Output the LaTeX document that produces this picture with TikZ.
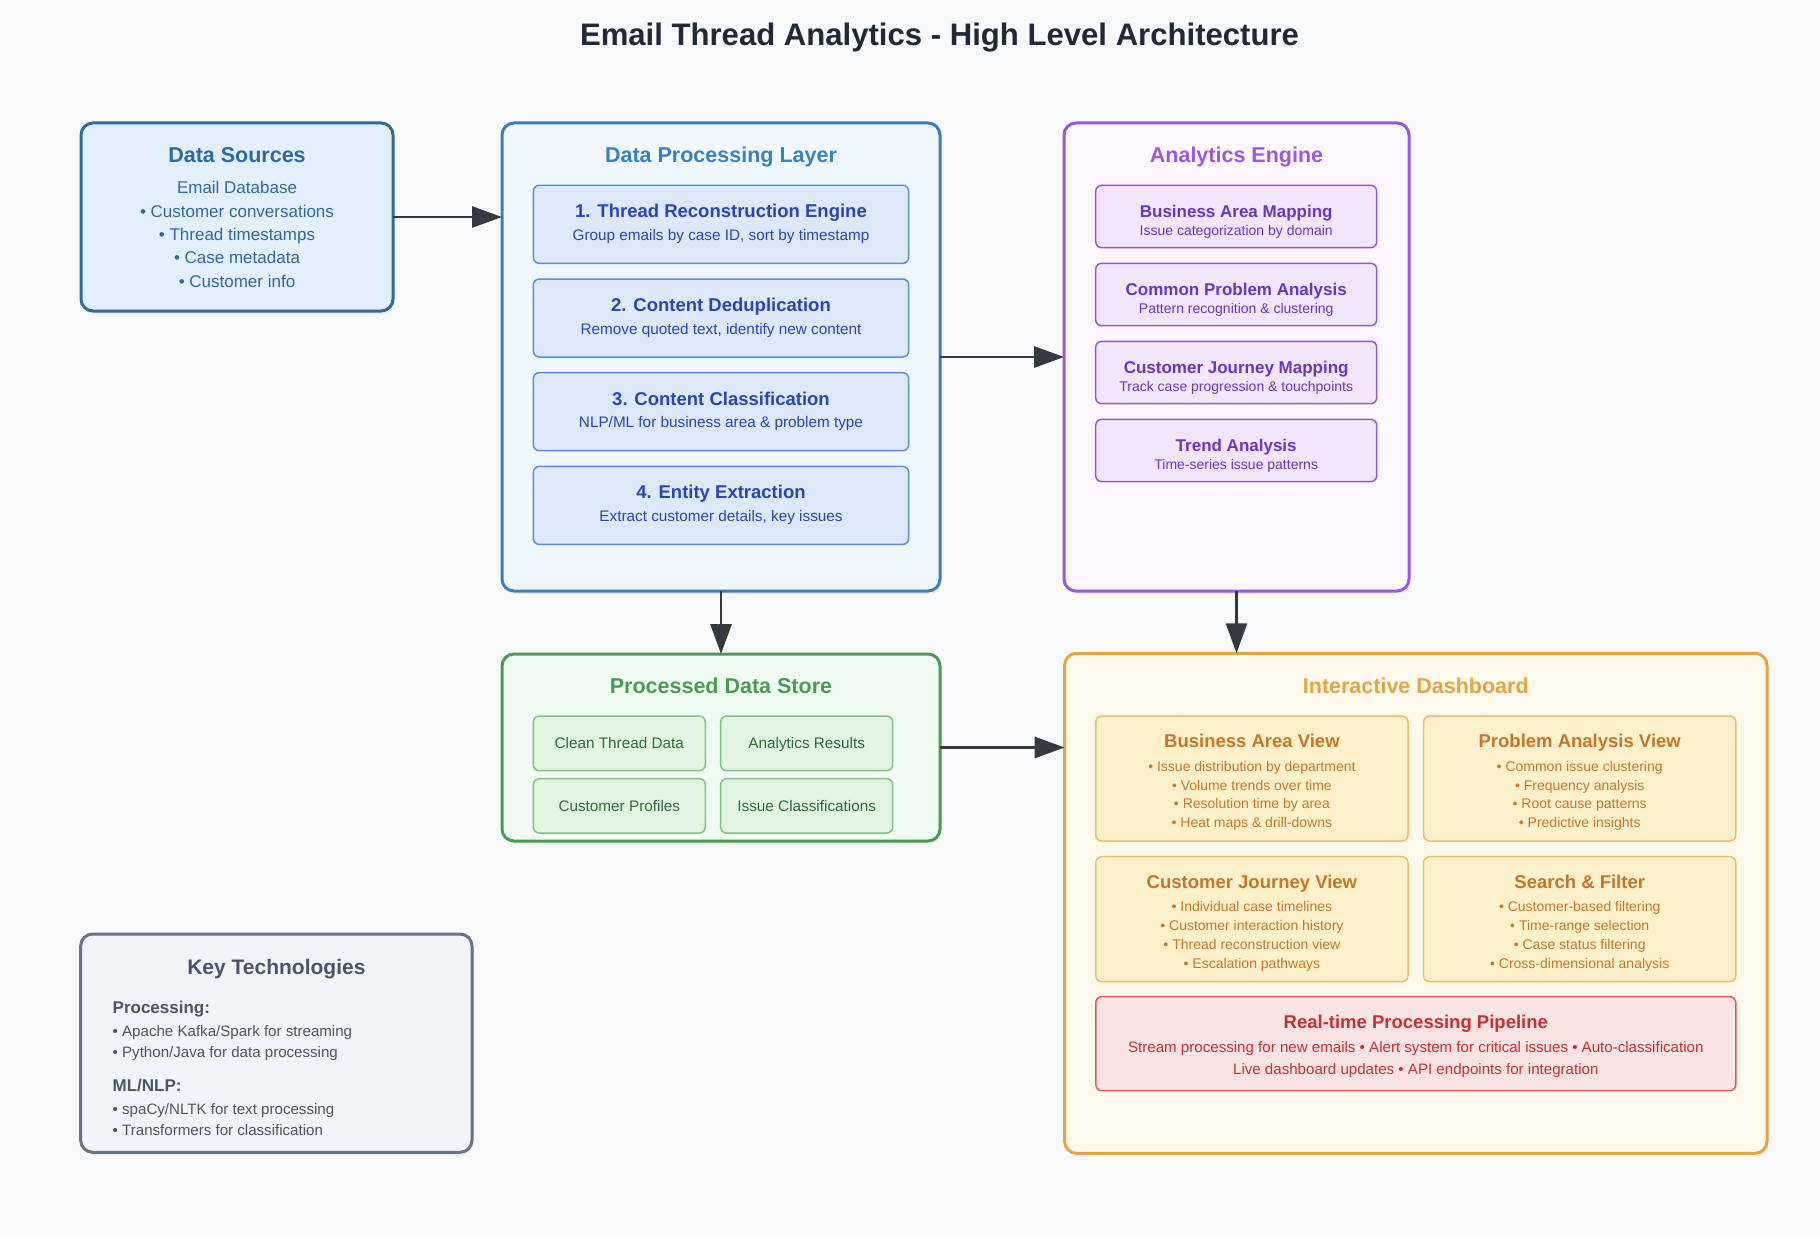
\documentclass[tikz,border=0pt]{standalone}
\usepackage{fontspec}
\setmainfont{Liberation Sans}
\usetikzlibrary{arrows.meta,shadows}
\definecolor{bgc}{HTML}{F7F9FB}
\definecolor{titlec}{HTML}{1F2937}
\definecolor{arrc}{HTML}{353A42}
\definecolor{dsS}{HTML}{2F6A9E}
\definecolor{dsF}{HTML}{E3F0FC}
\definecolor{dsT}{HTML}{2D6A9E}
\definecolor{dpS}{HTML}{3A7EBF}
\definecolor{dpF}{HTML}{F0F7FE}
\definecolor{dpT}{HTML}{3A80BF}
\definecolor{dpiF}{HTML}{DDE8FA}
\definecolor{dpiS}{HTML}{5A8DDF}
\definecolor{dpiT}{HTML}{2745B5}
\definecolor{aeS}{HTML}{9A58DE}
\definecolor{aeF}{HTML}{FCF6FD}
\definecolor{aeiF}{HTML}{F1E6FC}
\definecolor{aeiS}{HTML}{9457DA}
\definecolor{aeiT}{HTML}{6B33C6}
\definecolor{pdS}{HTML}{4A9B52}
\definecolor{pdF}{HTML}{F0FBF1}
\definecolor{pdiF}{HTML}{E0F6E1}
\definecolor{pdiS}{HTML}{7DC486}
\definecolor{pdiT}{HTML}{2E6B36}
\definecolor{dbS}{HTML}{E5A443}
\definecolor{dbF}{HTML}{FFF9EB}
\definecolor{dbiF}{HTML}{FDF0CB}
\definecolor{dbiS}{HTML}{EBBD66}
\definecolor{dbiT}{HTML}{C4772A}
\definecolor{ppF}{HTML}{FAE3E3}
\definecolor{ppS}{HTML}{DB5B5B}
\definecolor{ppT}{HTML}{C53030}
\definecolor{ktS}{HTML}{687386}
\definecolor{ktF}{HTML}{F1F4F8}
\definecolor{ktT}{HTML}{4A5568}
\newcommand\mkbox[6]{\node[#1, minimum width={(#5)-(#3)}, minimum height={(#6)-(#4)}] (#2) at ({((#3)+(#5))/2},{((#4)+(#6))/2}) {};}
\begin{document}
\begin{tikzpicture}[x=1pt,y=-1pt,
  secbox/.style={draw, line width=3pt, rounded corners=12pt, inner sep=0pt, outer sep=0pt,
     drop shadow={opacity=0.10, shadow xshift=1.5pt, shadow yshift=-3pt}},
  inbox/.style={draw, line width=1.5pt, rounded corners=6pt, inner sep=0pt, outer sep=0pt},
  fs/.style={font=\fontsize{#1}{#1}\selectfont, text height={0.72*#1}, text depth=0pt, inner sep=0pt, outer sep=0pt},
  fb/.style={font=\bfseries\fontsize{#1}{#1}\selectfont, text height={0.72*#1}, text depth=0pt, inner sep=0pt, outer sep=0pt},
  conn/.style={draw=arrc, line width=2.8pt, -{Triangle[length=30pt,width=21pt]}}
]
\useasboundingbox (0,0) rectangle (1820,1236);
\fill[bgc] (0,0) rectangle (1820,1236);

\node[fb=31.1, text=titlec] (title) at (939.5,34) {Email Thread Analytics - High Level Architecture};

% Data Sources
\mkbox{secbox, draw=dsS, fill=dsF}{ds}{81}{123}{393}{311}
\node[fb=21.5, text=dsT] (dst) at (237,154.3) {Data Sources};
\foreach \t [count=\i] in {Email Database, • Customer conversations, • Thread timestamps, • Case metadata, • Customer info}
  \node[fs=17, text=dsT] (dsl\i) at (237,{187.5+23.4*(\i-1)}) {\t};

% Data Processing Layer
\mkbox{secbox, draw=dpS, fill=dpF}{dp}{502}{123}{940}{591}
\node[fb=21.5, text=dpT] (dpt) at (721,154.3) {Data Processing Layer};
\foreach \ti/\su [count=\i] in {1. Thread Reconstruction Engine/{Group emails by case ID, sort by timestamp},
  2. Content Deduplication/{Remove quoted text, identify new content},
  3. Content Classification/NLP\slash ML for business area \& problem type,
  4. Entity Extraction/{Extract customer details, key issues}}{
  \pgfmathsetmacro\tp{185.3+93.7*(\i-1)}
  \mkbox{inbox, draw=dpiS, fill=dpiF}{dpb\i}{533.3}{\tp}{908.7}{\tp+78}
  \node[fb=18.5, text=dpiT] (dpbt\i) at (721,\tp+25.7) {\ti};
  \node[fs=15.3, text=dpiT] (dpbs\i) at (721,\tp+49.7) {\su};
}

% Analytics Engine
\mkbox{secbox, draw=aeS, fill=aeF}{ae}{1064}{123}{1409}{591}
\node[fb=21.5, text=aeS] (aet) at (1236.5,154.3) {Analytics Engine};
\foreach \ti/\su [count=\i] in {Business Area Mapping/Issue categorization by domain,
  Common Problem Analysis/Pattern recognition \& clustering,
  Customer Journey Mapping/Track case progression \& touchpoints,
  Trend Analysis/Time-series issue patterns}{
  \pgfmathsetmacro\tp{185.3+78*(\i-1)}
  \mkbox{inbox, draw=aeiS, fill=aeiF}{aeb\i}{1095.7}{\tp}{1376.7}{\tp+62.4}
  \node[fb=17, text=aeiT] (aebt\i) at (1236.2,\tp+25.7) {\ti};
  \node[fs=14, text=aeiT] (aebs\i) at (1236.2,\tp+45) {\su};
}

% Processed Data Store
\mkbox{secbox, draw=pdS, fill=pdF}{pd}{502}{654}{940}{841}
\node[fb=21.5, text=pdS] (pdt) at (721,685.7) {Processed Data Store};
\mkbox{inbox, draw=pdiS, fill=pdiF}{pd1}{533.3}{716}{705.3}{770.7}
\mkbox{inbox, draw=pdiS, fill=pdiF}{pd2}{720.7}{716}{892.7}{770.7}
\mkbox{inbox, draw=pdiS, fill=pdiF}{pd3}{533.3}{778.7}{705.3}{833}
\mkbox{inbox, draw=pdiS, fill=pdiF}{pd4}{720.7}{778.7}{892.7}{833}
\node[fs=15.3, text=pdiT] (pd1t) at (pd1) {Clean Thread Data};
\node[fs=15.3, text=pdiT] (pd2t) at (pd2) {Analytics Results};
\node[fs=15.3, text=pdiT] (pd3t) at (pd3) {Customer Profiles};
\node[fs=15.3, text=pdiT] (pd4t) at (pd4) {Issue Classifications};

% Interactive Dashboard
\mkbox{secbox, draw=dbS, fill=dbF}{db}{1064.6}{653.3}{1767}{1153.3}
\node[fb=21.5, text=dbS] (dbt) at (1415.8,685.7) {Interactive Dashboard};
\mkbox{inbox, draw=dbiS, fill=dbiF}{db1}{1095.8}{716}{1408}{841}
\mkbox{inbox, draw=dbiS, fill=dbiF}{db2}{1423.6}{716}{1735.8}{841}
\mkbox{inbox, draw=dbiS, fill=dbiF}{db3}{1095.8}{856.7}{1408}{981.7}
\mkbox{inbox, draw=dbiS, fill=dbiF}{db4}{1423.6}{856.7}{1735.8}{981.7}
\node[fb=18.5, text=dbiT] (db1t) at (1251.9,740.7) {Business Area View};
\node[fb=18.5, text=dbiT] (db2t) at (1579.7,740.7) {Problem Analysis View};
\node[fb=18.5, text=dbiT] (db3t) at (1251.9,881.7) {Customer Journey View};
\node[fb=18.5, text=dbiT] (db4t) at (1579.7,881.7) {Search \& Filter};
\foreach \t [count=\i] in {• Issue distribution by department, • Volume trends over time, • Resolution time by area, • Heat maps \& drill-downs}
  \node[fs=14, text=dbiT] (db1l\i) at (1251.9,{766.3+18.8*(\i-1)}) {\t};
\foreach \t [count=\i] in {• Common issue clustering, • Frequency analysis, • Root cause patterns, • Predictive insights}
  \node[fs=14, text=dbiT] (db2l\i) at (1579.7,{766.3+18.8*(\i-1)}) {\t};
\foreach \t [count=\i] in {• Individual case timelines, • Customer interaction history, • Thread reconstruction view, • Escalation pathways}
  \node[fs=14, text=dbiT] (db3l\i) at (1251.9,{906.5+18.9*(\i-1)}) {\t};
\foreach \t [count=\i] in {• Customer-based filtering, • Time-range selection, • Case status filtering, • Cross-dimensional analysis}
  \node[fs=14, text=dbiT] (db4l\i) at (1579.7,{906.5+18.9*(\i-1)}) {\t};

% Pipeline
\mkbox{inbox, draw=ppS, fill=ppF}{pp}{1095.8}{996.7}{1735.8}{1090.7}
\node[fb=18.5, text=ppT] (ppt) at (1415.8,1021.7) {Real-time Processing Pipeline};
\node[fs=15.1, text=ppT] (ppl1) at (1415.8,1046.7) {Stream processing for new emails • Alert system for critical issues • Auto-classification};
\node[fs=15.1, text=ppT] (ppl2) at (1415.8,1069.3) {Live dashboard updates • API endpoints for integration};

% Key Technologies
\mkbox{secbox, draw=ktS, fill=ktF}{kt}{80.7}{934}{472}{1152.3}
\node[fb=21, text=ktT] (ktt) at (276.4,966.7) {Key Technologies};
\node[fb=17, text=ktT, anchor=west] (kth1) at (112.7,1007.7) {Processing:};
\node[fs=15.1, text=ktT, anchor=west] (ktl1) at (112.7,1030.7) {• Apache Kafka/Spark for streaming};
\node[fs=15.1, text=ktT, anchor=west] (ktl2) at (112.7,1051.7) {• Python/Java for data processing};
\node[fb=17, text=ktT, anchor=west] (kth2) at (112.7,1085) {ML/NLP:};
\node[fs=15.1, text=ktT, anchor=west] (ktl3) at (112.7,1108.7) {• spaCy/NLTK for text processing};
\node[fs=15.1, text=ktT, anchor=west] (ktl4) at (112.7,1130) {• Transformers for classification};

% Connectors
\draw[conn] (ds.east) -- (ds.east -| dp.west);
\draw[conn] (dp.east) -- (dp.east -| ae.west);
\draw[conn] (dp.south) -- (pd.north);
\draw[conn] (ae.south) -- (ae.south |- db.north);
\draw[conn] (pd.east) -- (pd.east -| db.west);
\end{tikzpicture}
\end{document}
